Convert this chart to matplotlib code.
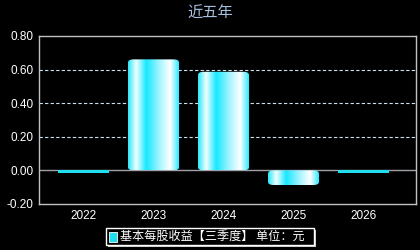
import matplotlib
matplotlib.use('Agg')
import matplotlib.pyplot as plt
import numpy as np
from matplotlib.colors import LinearSegmentedColormap
from matplotlib.patches import FancyBboxPatch, Rectangle

plt.rcParams['font.family'] = ['Noto Sans CJK SC', 'DejaVu Sans']

years = ['2022', '2023', '2024', '2025', '2026']
eps = [-0.014, 0.661, 0.587, -0.087, -0.014]
yticks = [-0.20, 0.00, 0.20, 0.40, 0.60, 0.80]

fig = plt.figure(figsize=(4.2, 2.5), dpi=100, facecolor='black')
ax = fig.add_axes([39/420, 1-204/250, 377/420, 168/250], facecolor='black')

# horizontal cyan/white gradient used inside each bar
cmap = LinearSegmentedColormap.from_list('bar', [
    (0.0, '#30e8f8'), (0.15, '#f0ffff'), (0.35, '#18e8ff'),
    (0.6, '#a0f4ff'), (0.82, '#ffffff'), (1.0, '#20e8ff')])
grad = np.linspace(0, 1, 64).reshape(1, -1)

w = 0.73
for i, v in enumerate(eps):
    x0 = i - w/2
    lo, hi = min(0, v), max(0, v)
    if abs(v) < 0.03:
        ax.add_patch(Rectangle((x0, lo), w, hi-lo, color='#20e0f0', lw=0, zorder=3))
        continue
    im = ax.imshow(grad, cmap=cmap, aspect='auto', extent=(x0, x0+w, lo, hi), zorder=3)
    clip = FancyBboxPatch((x0, lo), w, hi-lo, boxstyle='round,pad=0,rounding_size=0.08',
                          mutation_aspect=0.25, transform=ax.transData, fc='none', ec='none')
    ax.add_patch(clip)
    im.set_clip_path(clip)

ax.set_xlim(-0.636, 4.75)
ax.set_ylim(-0.2, 0.8)
ax.set_yticks(yticks)
ax.set_yticklabels([f'{t:.2f}' for t in yticks])
ax.set_xticks(range(len(years)))
ax.set_xticklabels(years)
ax.tick_params(colors='white', labelsize=8.5, length=0, pad=4)
for t in ax.get_xticklabels() + ax.get_yticklabels():
    t.set_family('Liberation Sans')

for y in [0.2, 0.4, 0.6]:
    ax.axhline(y, color='#c8e0f0', lw=0.8, ls=(0, (3, 2)), zorder=1)
ax.axhline(0, color='#a0a0a8', lw=1, zorder=2)

for s in ['top', 'bottom', 'left', 'right']:
    ax.spines[s].set_color('#c0c0c0')
    ax.spines[s].set_linewidth(1)

fig.text(0.5, 1-13/250, '近五年', color='#a8c0e0', fontsize=11, ha='center', va='center')

# legend box with shadow
lx0, lx1, ly0, ly1 = 106/420, 314/420, 1-245/250, 1-228/250
fig.patches.append(Rectangle((lx0+2/420, ly0-2/250), lx1-lx0, ly1-ly0, transform=fig.transFigure,
                             fc='#c8c8c0', ec='none'))
fig.patches.append(Rectangle((lx0, ly0), lx1-lx0, ly1-ly0, transform=fig.transFigure,
                             fc='black', ec='white', lw=1))
fig.patches.append(Rectangle((109/420, 1-242/250), 8/420, 10/250, transform=fig.transFigure,
                             fc='#20e0f0', ec='white', lw=0.6))
fig.text(120/420, (ly0+ly1)/2, '基本每股收益【三季度】 单位：元', color='white', fontsize=8.7,
         ha='left', va='center')

fig.savefig('out.png', dpi=100, facecolor='black')
